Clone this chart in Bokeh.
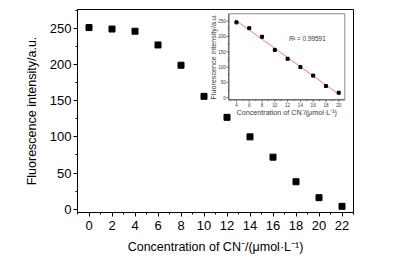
import math
import numpy as np
from bokeh.plotting import figure
from bokeh.models import SingleIntervalTicker, Range1d
from bokeh.core.properties import value
from bokeh.embed import file_html
from bokeh.resources import INLINE

# ---- data ----
conc = [0, 2, 4, 6, 8, 10, 12, 14, 16, 18, 20, 22]
intensity = [251, 249, 246, 227, 199, 156, 127, 100, 72, 38, 16, 4]

inset_conc = [4, 6, 8, 10, 12, 14, 16, 18, 20]
inset_intensity = [246, 227, 199, 156, 127, 100, 72, 38, 16]
inset_x_ticks = [4, 6, 8, 10, 12, 14, 16, 18, 20]
inset_y_ticks = [0, 50, 100, 150, 200, 250]
r2_text = "0.99591"

x_label = "Concentration of CN\u207b/(\u03bcmol\u00b7L\u207b\u00b9)"
y_label = "Fluorescence intensity/a.u."

FONT = "Liberation Sans"

# ---- layout geometry (pixels) ----
W, H = 399, 260
FL, FR, FT, FB = 77, 353, 9, 212          # main frame
IL, IR, IT, IB = 228.3, 344.3, 13.3, 99.3  # inset frame
X0, X1 = -1, 23
Y0, Y1 = -4.5, 276
IX0, IX1 = 2.8, 20.95
IY0, IY1 = -7, 274

p = figure(width=W, height=H, output_backend="svg", toolbar_location=None,
           x_range=Range1d(X0, X1), y_range=Range1d(Y0, Y1),
           min_border_left=FL, min_border_right=W - FR, min_border_top=FT,
           min_border_bottom=H - FB)
p.background_fill_color = "white"
p.border_fill_color = "white"
p.outline_line_color = "black"
p.outline_line_width = 1
p.xgrid.visible = False
p.ygrid.visible = False

p.xaxis.ticker = SingleIntervalTicker(interval=2, num_minor_ticks=2)
p.yaxis.ticker = SingleIntervalTicker(interval=50, num_minor_ticks=2)
for ax in (p.xaxis[0], p.yaxis[0]):
    ax.axis_line_color = "black"
    ax.major_tick_line_color = "black"
    ax.minor_tick_line_color = "black"
    ax.major_tick_in = 0
    ax.major_tick_out = 4
    ax.minor_tick_in = 0
    ax.minor_tick_out = 2
    ax.major_label_text_font = FONT
    ax.major_label_text_font_size = "13px"
    ax.major_label_text_color = "black"
    ax.axis_label_text_font = FONT
    ax.axis_label_text_font_size = "12.5px"
    ax.axis_label_text_font_style = "normal"
    ax.axis_label_text_color = "black"
p.xaxis.major_label_standoff = 4
p.xaxis.axis_label_standoff = 7
p.yaxis.major_label_standoff = 2
p.yaxis.axis_label_standoff = 8
p.xaxis.axis_label = x_label
p.yaxis.axis_label = y_label

p.scatter(conc, intensity, marker="square", size=6, color="black")

# ---- inset as a sub-coordinate system of the main plot ----
fw, fh = FR - FL, FB - FT
tx0 = X0 + (IL - FL) / fw * (X1 - X0)
tx1 = X0 + (IR - FL) / fw * (X1 - X0)
ty1 = Y1 - (IT - FT) / fh * (Y1 - Y0)
ty0 = Y1 - (IB - FT) / fh * (Y1 - Y0)

sub = p.subplot(x_source=Range1d(IX0, IX1), y_source=Range1d(IY0, IY1),
                x_target=Range1d(tx0, tx1), y_target=Range1d(ty0, ty1))

AX = "#555555"
TXT = "#3a3a3a"

# frame box and axis lines
sub.quad(left=[IX0], right=[IX1], bottom=[IY0], top=[IY1], fill_color="white",
         fill_alpha=1, line_color="#8a8a8a", line_width=1)
sub.segment(x0=[IX0, IX0], y0=[IY0, IY0], x1=[IX0, IX1], y1=[IY1, IY0],
            line_color=AX, line_width=1)

# ticks
minor_x = [t + 1 for t in inset_x_ticks[:-1]] + [inset_x_ticks[0] - 1]
minor_y = [t + 25 for t in inset_y_ticks if t + 25 < IY1]
sub.ray(x=inset_x_ticks, y=[IY0] * len(inset_x_ticks), length=2.5, length_units="screen",
        angle=-math.pi / 2, line_color=AX, line_width=0.8)
sub.ray(x=minor_x, y=[IY0] * len(minor_x), length=1.3, length_units="screen",
        angle=-math.pi / 2, line_color=AX, line_width=0.8)
sub.ray(x=[IX0] * len(inset_y_ticks), y=inset_y_ticks, length=2.5, length_units="screen",
        angle=math.pi, line_color=AX, line_width=0.8)
sub.ray(x=[IX0] * len(minor_y), y=minor_y, length=1.3, length_units="screen",
        angle=math.pi, line_color=AX, line_width=0.8)

# tick labels
sub.text(x=inset_x_ticks, y=[IY0] * len(inset_x_ticks), text=[str(t) for t in inset_x_ticks],
         y_offset=3, text_align="center", text_baseline="top",
         text_font=value(FONT), text_font_size="4.6px", text_color=TXT)
sub.text(x=[IX0] * len(inset_y_ticks), y=inset_y_ticks, text=[str(t) for t in inset_y_ticks],
         x_offset=-3, text_align="right", text_baseline="middle",
         text_font=value(FONT), text_font_size="4.6px", text_color=TXT)

# axis labels
sub.text(x=[(IX0 + IX1) / 2], y=[IY0], text=[x_label], y_offset=12.7,
         text_align="center", text_baseline="middle",
         text_font=value(FONT), text_font_size="7.2px", text_color=TXT)
sub.text(x=[IX0], y=[(IY0 + IY1) / 2], text=[y_label], x_offset=-15.3, angle=math.pi / 2,
         text_align="center", text_baseline="middle",
         text_font=value(FONT), text_font_size="7.2px", text_color=TXT)

# fit line and points
slope, intercept = np.polyfit(inset_conc, inset_intensity, 1)
fit_x = [inset_conc[0], inset_conc[-1]]
fit_y = [slope * v + intercept for v in fit_x]
sub.line(fit_x, fit_y, line_color="#f07878", line_width=1)
sub.scatter(inset_conc, inset_intensity, marker="square", size=3, color="black")

# R^2 annotation
sub.text(x=[12.2], y=[193], text=["R"], text_align="left", text_baseline="middle",
         text_font=value(FONT), text_font_size="6.4px", text_font_style="italic",
         text_color=TXT)
sub.text(x=[12.2], y=[193], text=["\u00b2 = " + r2_text], x_offset=4.3,
         text_align="left", text_baseline="middle",
         text_font=value(FONT), text_font_size="6.4px", text_color=TXT)

open("out.html", "w").write(file_html(p, INLINE))
